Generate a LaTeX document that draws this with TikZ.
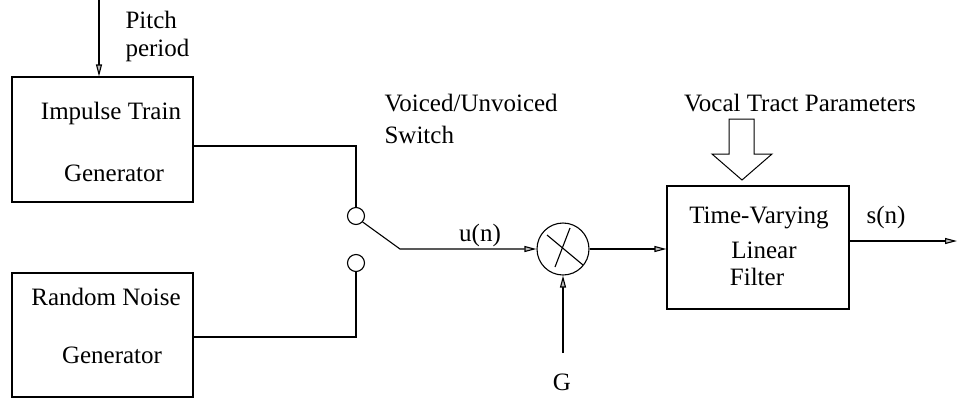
\documentclass[tikz,border=0pt]{standalone}
\usepackage{fontspec}
\setmainfont{Liberation Serif}
\usetikzlibrary{arrows.meta,calc}
\begin{document}
\begin{tikzpicture}[x=1pt,y=-1pt,line width=1.1pt,
  every node/.style={font=\fontsize{25}{29}\selectfont, inner sep=0pt},
  blk/.style={draw, rectangle},
  sw/.style={draw, circle, minimum size=17pt},
  arr/.style={-{Triangle[length=12pt,width=6pt,fill=gray!50]}},
  txt/.style={anchor=center}]
\useasboundingbox (0,0) rectangle (959,400);
% boxes
\node[blk, minimum width=181pt, minimum height=125pt] (imp) at (102.5,139.5) {};
\node[blk, minimum width=181pt, minimum height=124pt] (rn) at (102.5,335) {};
\node[blk, minimum width=182pt, minimum height=123pt] (flt) at (758,247.5) {};
% texts
\node[txt] (t1) at (111,113) {Impulse Train};
\node[txt] (t2) at (114,173) {Generator};
\node[txt] (t3) at (106,297) {Random Noise};
\node[txt] (t4) at (112,355) {Generator};
\node[txt] (t5) at (759,218) {Time-Varying};
\node[txt] (t6) at (764,250) {Linear};
\node[txt] (t7) at (757,277) {Filter};
\node[anchor=west] (pitch) at (125,20) {Pitch};
\node[anchor=west] (period) at (125,50) {period};
\node[anchor=west] (vu) at (384,103) {Voiced/Unvoiced};
\node[anchor=west] (swl) at (384,135) {Switch};
\node (un) at (480,235) {u(n)};
\node (sn) at (886,217) {s(n)};
\node (g) at (562,382) {G};
\node (vtp) at (800,103) {Vocal Tract Parameters};
% switch
\node[sw] (sw1) at (356,216) {};
\node[sw] (sw2) at (356,263) {};
\coordinate (arm) at (400,249);
\draw ([yshift=-6.5pt]imp.east) -| (sw1.north);
\draw ([yshift=-2pt]rn.east) -| (sw2.south);
% multiplier
\node[draw, circle, minimum size=52pt] (mult) at (563,249) {};
\draw ([shift={(-16,-14)}]mult.center) -- ([shift={(20,16)}]mult.center);
\draw ([shift={(-8,18)}]mult.center) -- ([shift={(7,-21)}]mult.center);
\draw[arr] (sw1.-42) -- (arm) -- (mult.west);
\coordinate (gs) at (563,353);
\draw[arr] (gs) -- (mult.south);
\draw[arr] (mult.east) -- (mult.east -| flt.west);
% pitch
\coordinate (ps) at (99,0);
\draw[arr] (ps) -- (ps |- imp.north);
% output
\coordinate (out) at (957,241);
\draw[arr] (flt.east |- out) -- (out);
% block arrow
\draw[line width=1pt] (729,119) -- (754,119) -- (754,154) -- (772,154) -- (742,180) -- (712,154) -- (729,154) -- cycle;
\end{tikzpicture}
\end{document}
